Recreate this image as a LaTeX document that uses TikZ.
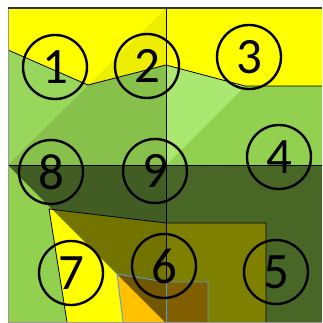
\documentclass[tikz,border=0pt]{standalone}
\usepackage{fontspec}
\setmainfont{Carlito}
\definecolor{leaf}{HTML}{92D050}
\definecolor{leaflit}{HTML}{98D75B}
\definecolor{leafdim}{HTML}{87C04B}
\definecolor{leafglow}{HTML}{ABE872}
\definecolor{sun}{HTML}{FFFF00}
\definecolor{amber}{HTML}{FFC000}
\definecolor{seamblue}{HTML}{5B9BD5}

\begin{document}
\begin{tikzpicture}[x=1pt,y=-1pt,
  zone/.style={draw,circle,line width=2.4pt,minimum size=64pt,inner sep=0pt,font=\fontsize{51}{51}\selectfont},
  edge/.style={line width=0.8pt},
  seam/.style={seamblue,line width=0.9pt}]
  \useasboundingbox (0,0) rectangle (322,323);

  \fill[leaf] (8,8) rectangle (322,322);
  \fill[leaflit] (8,8) -- (166,8) -- (8,165) -- cycle;
  \fill[leafdim] (166,8) -- (166,165) -- (8,165) -- cycle;
  \fill[leafglow] (166,8) -- (322,8) -- (322,9) -- (166,165) -- cycle;
  \fill[sun] (8,8) -- (322,8) -- (322,86) -- (245,86) -- (166,65) -- (88,85) -- (8,50) -- cycle;
  \begin{scope}
    \clip (8,8) -- (322,8) -- (322,86) -- (245,86) -- (166,65) -- (88,85) -- (8,50) -- cycle;
    \fill[black,opacity=0.07] (166,8) -- (166,165) -- (8,165) -- cycle;
  \end{scope}
  \fill[sun] (49,209) -- (166,223) -- (266,223) -- (266,322) -- (67,322) -- cycle;
  \fill[amber] (117,274) -- (166,282) -- (208,282) -- (208,322) -- (123,322) -- cycle;

  \fill[black,opacity=0.55] (8,165) -- (166,165) -- (166,322) -- (165,322) -- cycle;
  \fill[black,opacity=0.5] (166,165) rectangle (322,322);

  \draw[edge] (8,50) -- (88,85) -- (166,65) -- (245,86) -- (322,86);
  \draw[edge] (8,165) -- (322,165);
  \draw[edge] (166,8) -- (166,282);
  \draw[edge] (67,322) -- (49,209) -- (166,223) -- (266,223) -- (266,322);
  \draw[seam] (123,322) -- (117,274) -- (166,282) -- (208,282) -- (208,322);
  \draw[seam] (166,282) -- (166,322);

  \draw[black!40,line width=1pt] (8,8) -- (8,322) -- (322,322);
  \draw[black!80,line width=1.5pt] (8,8) -- (322,8);

  \node[zone] (n1) at (55,67) {1};
  \node[zone] (n2) at (147,66) {2};
  \node[zone] (n3) at (249,57) {3};
  \node[zone] (n4) at (279,157) {4};
  \node[zone] (n5) at (276,272) {5};
  \node[zone] (n6) at (164,266) {6};
  \node[zone] (n7) at (71,273) {7};
  \node[zone] (n8) at (51,172) {8};
  \node[zone] (n9) at (155,171) {9};
\end{tikzpicture}
\end{document}
